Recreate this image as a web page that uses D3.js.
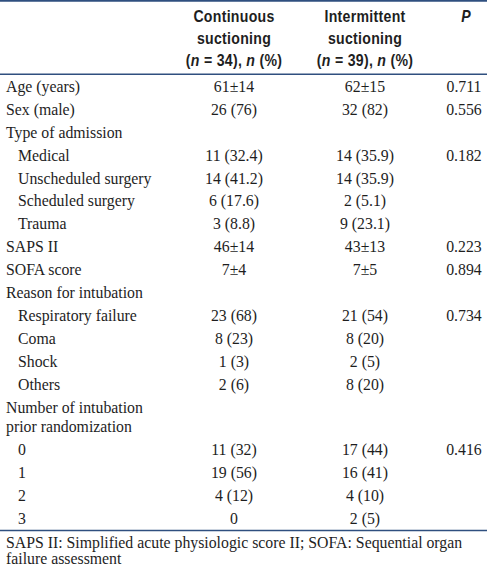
<!DOCTYPE html>
<html>
<head>
<meta charset="utf-8">
<script src="https://cdn.jsdelivr.net/npm/d3@7"></script>
<style>
  html, body { margin: 0; padding: 0; background: #fff; }
  svg { display: block; }
</style>
</head>
<body>
<div id="chart"></div>
<script>
// ---------- DATA ----------
const characteristics = [
  "Age (years)", "Sex (male)", "Type of admission", "Medical", "Unscheduled surgery",
  "Scheduled surgery", "Trauma", "SAPS II", "SOFA score", "Reason for intubation",
  "Respiratory failure", "Coma", "Shock", "Others",
  "Number of intubation|prior randomization", "0", "1", "2", "3"
];
const level = [0, 0, 0, 1, 1, 1, 1, 0, 0, 0, 1, 1, 1, 1, 0, 1, 1, 1, 1];
const continuousSuctioning = [
  "61±14", "26 (76)", "", "11 (32.4)", "14 (41.2)", "6 (17.6)", "3 (8.8)", "46±14", "7±4", "",
  "23 (68)", "8 (23)", "1 (3)", "2 (6)", "", "11 (32)", "19 (56)", "4 (12)", "0"
];
const intermittentSuctioning = [
  "62±15", "32 (82)", "", "14 (35.9)", "14 (35.9)", "2 (5.1)", "9 (23.1)", "43±13", "7±5", "",
  "21 (54)", "8 (20)", "2 (5)", "8 (20)", "", "17 (44)", "16 (41)", "4 (10)", "2 (5)"
];
const pValues = [
  "0.711", "0.556", "", "0.182", "", "", "", "0.223", "0.894", "",
  "0.734", "", "", "", "", "0.416", "", "", ""
];
const columnKeys = ["label", "cont", "inter", "p"];
const columnHeaders = [
  [],
  ["Continuous", "suctioning", "(*n* = 34), *n* (%)"],
  ["Intermittent", "suctioning", "(*n* = 39), *n* (%)"],
  ["*P*"]
];
const footnote = [
  "SAPS II: Simplified acute physiologic score II; SOFA: Sequential organ",
  "failure assessment"
];

// ---------- LAYOUT ----------
const W = 487, H = 566;
const lineColor = "#2f4f7f";
const textColor = "#1e1e1e";
const serif = "'Liberation Serif','Times New Roman',serif";
const sans = "'Liberation Sans',Arial,sans-serif";
const bodySize = 15.8;

const svg = d3.select("#chart").append("svg")
  .attr("width", W).attr("height", H)
  .attr("viewBox", `0 0 ${W} ${H}`);

// rows
const rows = characteristics.map((c, i) => ({
  lines: c.split("|"),
  level: level[i],
  cont: continuousSuctioning[i],
  inter: intermittentSuctioning[i],
  p: pValues[i]
}));
const innerLine = 0.87;
let acc = 0;
rows.forEach(r => {
  r.start = acc;
  r.units = 1 + (r.lines.length - 1) * innerLine;
  acc += r.units;
});
const totalUnits = acc;

const bodyTop = 75.5, bodyBottom = 530.5;
const y = d3.scaleLinear().domain([0, totalUnits]).range([bodyTop, bodyBottom]);
const unitPx = y(1) - y(0);

const xCol = d3.scaleOrdinal().domain(columnKeys).range([6, 234, 365, 464]);
const indentPx = 12;

// rules
const rules = [0.9, 74.2, bodyBottom];
svg.selectAll("line.rule").data(rules).join("line")
  .attr("class", "rule")
  .attr("x1", 0).attr("x2", W)
  .attr("y1", d => d).attr("y2", d => d)
  .attr("stroke", lineColor).attr("stroke-width", 1.6);

// header
function addRich(sel, str) {
  str.split("*").forEach((seg, k) => {
    if (!seg) return;
    sel.append("tspan").text(seg).attr("font-style", k % 2 ? "italic" : "normal");
  });
}
const headerBaselines = [22.2, 44.2, 66.2];
const condense = 0.84;
const hdr = svg.append("g").attr("class", "header");
columnHeaders.forEach((lines, ci) => {
  lines.forEach((ln, li) => {
    const cx = xCol(columnKeys[ci]) + (columnKeys[ci] === "p" ? 2 : 0);
    const t = hdr.append("text")
      .attr("transform", `translate(${cx},${headerBaselines[li]}) scale(${condense},1)`)
      .attr("text-anchor", "middle")
      .attr("font-family", sans)
      .attr("font-weight", "bold")
      .attr("font-size", 16.8)
      .attr("letter-spacing", 0.35)
      .attr("fill", textColor);
    addRich(t, ln);
  });
});

// body
const body = svg.append("g").attr("class", "body")
  .attr("font-family", serif).attr("font-size", bodySize).attr("fill", textColor);

const rowG = body.selectAll("g.row").data(rows).join("g").attr("class", "row");

rowG.each(function(r) {
  const g = d3.select(this);
  const base0 = y(r.start) + unitPx / 2 + 5;
  r.lines.forEach((ln, li) => {
    g.append("text")
      .attr("x", xCol("label") + r.level * indentPx)
      .attr("y", base0 + li * innerLine * unitPx)
      .text(ln);
  });
  ["cont", "inter", "p"].forEach(k => {
    if (!r[k]) return;
    g.append("text")
      .attr("x", xCol(k))
      .attr("y", base0)
      .attr("text-anchor", "middle")
      .text(r[k]);
  });
});

// footnote
svg.append("g").attr("class", "footnote")
  .selectAll("text").data(footnote).join("text")
  .attr("x", 6)
  .attr("y", (d, i) => 547.5 + i * 16.5)
  .attr("font-family", serif).attr("font-size", bodySize).attr("fill", textColor)
  .text(d => d);
</script>
</body>
</html>
